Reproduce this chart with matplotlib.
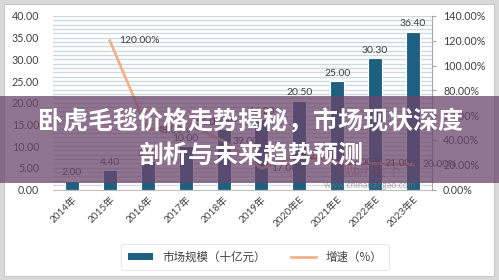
import matplotlib.pyplot as plt
from matplotlib.patches import Rectangle, Patch
from matplotlib.lines import Line2D

plt.rcParams['font.family'] = ['Lato', 'Noto Sans CJK SC', 'DejaVu Sans']

# data
years = ['2014年', '2015年', '2016年', '2017年', '2018年', '2019年',
         '2020年E', '2021年E', '2022年E', '2023年E']
market = [2.00, 4.40, 6.50, 10.00, 13.90, 16.20, 20.50, 25.00, 30.30, 36.40]
growth = [None, 120.0, 48.0, 54.0, 39.0, 17.0, 27.0, 22.0, 21.0, 20.0]

title_lines = ['卧虎毛毯价格走势揭秘，市场现状深度', '剖析与未来趋势预测']

bar_color = '#1f5f80'
line_color = '#f4b08a'
text_color = '#404040'

fig = plt.figure(figsize=(4.99, 2.80), dpi=100)
fig.patch.set_facecolor('#d9d9d9')
fig.patches.append(Rectangle((4 / 499, 4 / 280), 490 / 499, 272 / 280,
                             transform=fig.transFigure, facecolor='white',
                             edgecolor='#c8c8c8', lw=0.8, zorder=-1))

ax = fig.add_axes([53 / 499, 90.5 / 280, 379 / 499, 173.5 / 280])
ax.set_facecolor('white')
x = list(range(len(years)))

# dense striped grid
for v in range(1, 41):
    ax.axhline(v, color='#cfd9e2', lw=1.0, zorder=0)

bars = ax.bar(x, market, width=0.37, color=bar_color, edgecolor='white',
              linewidth=0.8, zorder=2)
for xi, v in zip(x, market):
    ax.text(xi, v + 0.8, f'{v:.2f}', ha='center', va='bottom',
            fontsize=7.5, color=text_color, zorder=3)

ax.set_xlim(-0.5, 9.5)
ax.set_ylim(0, 40)
ax.set_yticks(range(0, 41, 5))
ax.set_yticklabels([f'{v:.2f}' for v in range(0, 41, 5)])
ax.tick_params(axis='y', length=0, pad=10, labelsize=7.7, labelcolor=text_color)
ax.set_xticks(x)
ax.set_xticklabels(years, rotation=45, ha='right', rotation_mode='anchor')
ax.tick_params(axis='x', length=0, pad=4, labelsize=7.2, labelcolor=text_color)
for s in ['top', 'left', 'right']:
    ax.spines[s].set_visible(False)
ax.spines['bottom'].set_color('#bfbfbf')

ax2 = ax.twinx()
gx = [xi for xi, g in zip(x, growth) if g is not None]
gy = [g for g in growth if g is not None]
ax2.plot(gx, gy, color=line_color, lw=2, zorder=4)
for xi, g in zip(gx, gy):
    ax2.text(xi + 0.25, g, f'{g:.2f}%', ha='left', va='center',
             fontsize=7.5, color=text_color, zorder=5)
ax2.set_ylim(0, 140)
ax2.set_yticks(range(0, 141, 20))
ax2.set_yticklabels([f'{v:.2f}%' for v in range(0, 141, 20)])
ax2.tick_params(axis='y', length=3, direction='out', pad=5, labelsize=7.7,
                labelcolor=text_color, color='#a6a6a6')
for s in ['top', 'left', 'bottom']:
    ax2.spines[s].set_visible(False)
ax2.spines['right'].set_color('#a6a6a6')
ax.set_zorder(1)
ax2.set_zorder(2)

# faint watermark
fig.text(370 / 499, 1 - 171 / 280, '观研天下', ha='center', va='center',
         fontsize=12, color='#b84a4a', alpha=0.45, family='Noto Sans CJK SC',
         zorder=3)
fig.text(370 / 499, 1 - 185 / 280, 'www.chinabaogao.com', ha='center',
         va='center', fontsize=6.5, color='#7f7f7f', alpha=0.6, zorder=3)

legend_handles = [Patch(facecolor=bar_color, edgecolor='none'),
                  Line2D([], [], color=line_color, lw=2)]
leg = fig.legend(legend_handles, ['市场规模（十亿元）', '增速（%）'],
                 loc='center', bbox_to_anchor=(255 / 499, 1 - 257 / 280),
                 ncol=2, frameon=True, handlelength=2.2,
                 handleheight=0.5, columnspacing=2.2, borderpad=0.55,
                 prop={'family': 'Noto Sans CJK SC', 'size': 8.3})
leg.get_frame().set_edgecolor('#e3e3e3')
leg.get_frame().set_linewidth(0.8)
leg.set_zorder(4)
for t in leg.get_texts():
    t.set_color(text_color)

# title banner
fig.patches.append(Rectangle((0, 1 - 183 / 280), 1, 87 / 280,
                             transform=fig.transFigure, facecolor='#6b456b',
                             alpha=0.75, edgecolor='none', zorder=10))
fig.text(251 / 499, 1 - 122 / 280, title_lines[0], ha='center', va='center',
         fontsize=18, fontweight='heavy', color='white',
         family='Noto Sans CJK SC', zorder=11)
fig.text(251 / 499, 1 - 156 / 280, title_lines[1], ha='center', va='center',
         fontsize=18, fontweight='heavy', color='white',
         family='Noto Sans CJK SC', zorder=11)

fig.savefig('out.png', dpi=100, facecolor=fig.get_facecolor())
